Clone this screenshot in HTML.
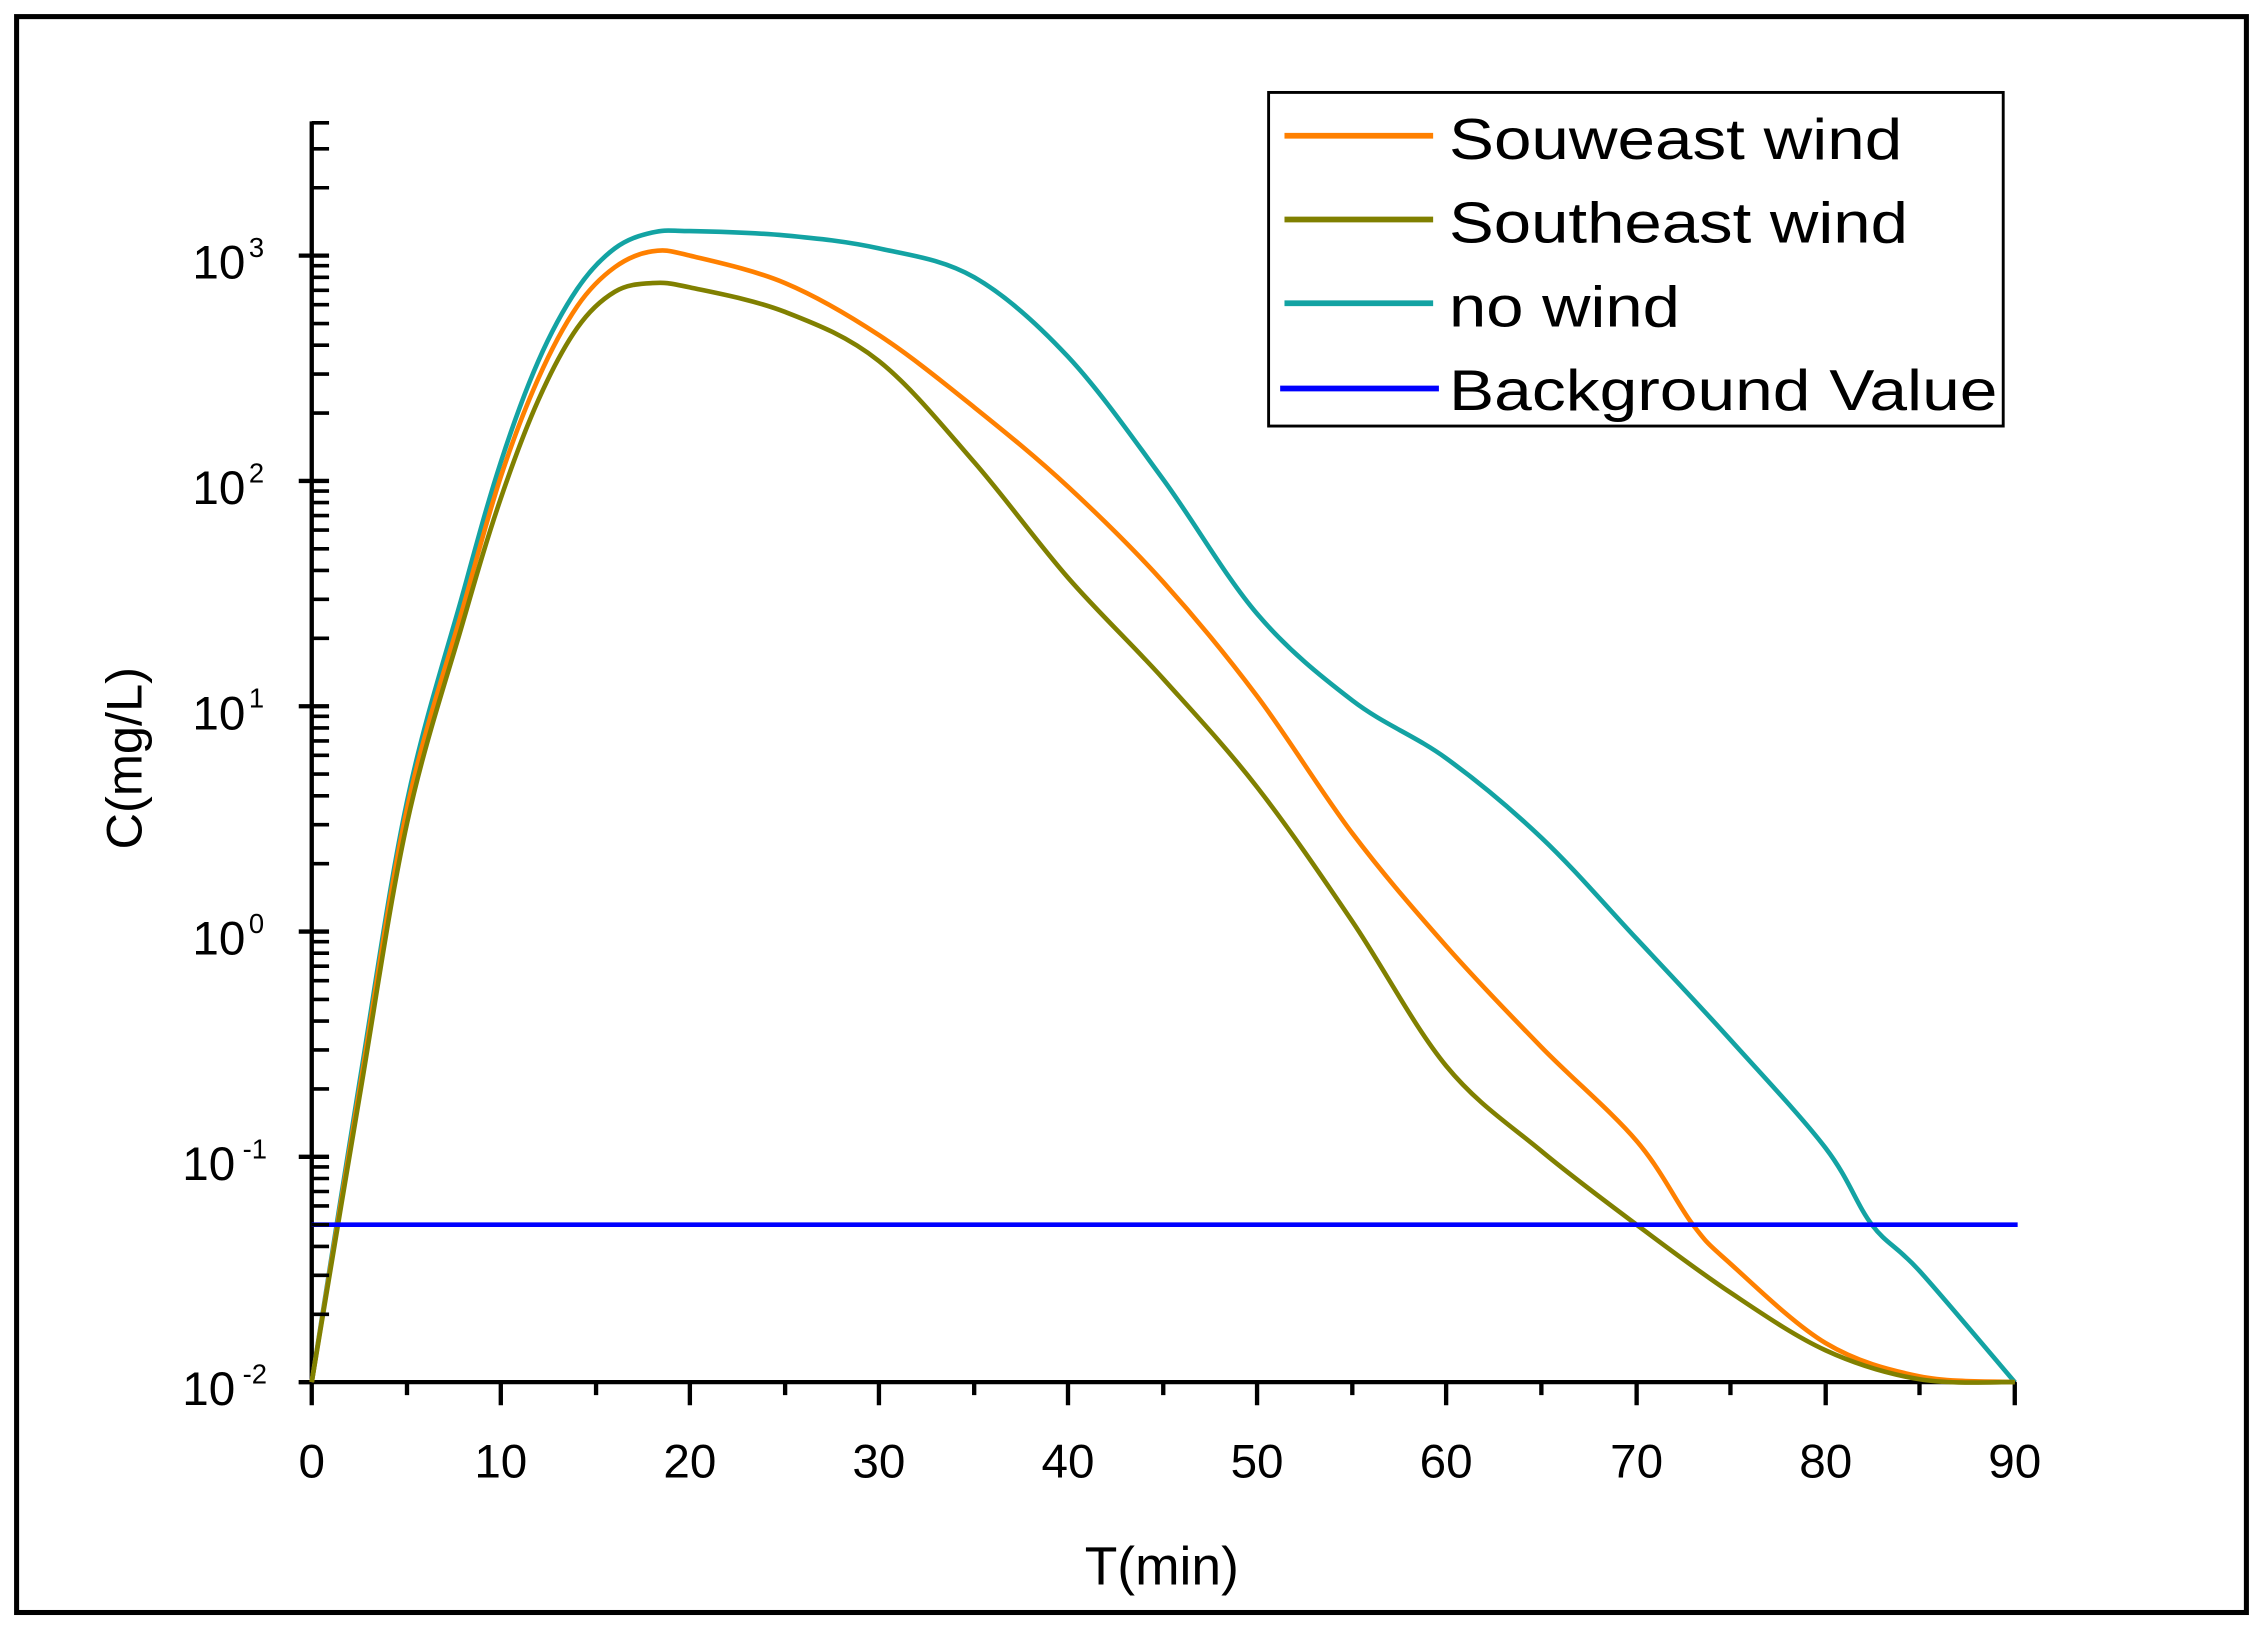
<!DOCTYPE html>
<html><head><meta charset="utf-8"><style>
html,body{margin:0;padding:0;background:#fff;}
svg{display:block;}
text{font-family:"Liberation Sans",Arial,sans-serif;fill:#000;}
</style></head><body>
<svg id="s" width="2263" height="1632" viewBox="0 0 1568 1130" preserveAspectRatio="none" xmlns="http://www.w3.org/2000/svg">
<rect x="0" y="0" width="1568" height="1130" fill="#fff"/>
<rect x="11.5" y="11.5" width="1545" height="1105" fill="none" stroke="#000" stroke-width="3.5"/>
<line x1="216" y1="84" x2="216" y2="958" stroke="#000" stroke-width="3"/>
<g stroke="#000" stroke-width="3">
<path d="M207 177H216M207 333H216M207 489H216M207 645H216M207 801H216M207 957H216"/>
<path d="M216 177H228M216 333H228M216 489H228M216 645H228M216 801H228"/>
</g>
<line x1="207" y1="957" x2="1397" y2="957" stroke="#000" stroke-width="3"/>
<g stroke="#000" stroke-width="3">
<path d="M216 957V973M347 957V973M478 957V973M609 957V973M740 957V973M871 957V973M1002 957V973M1134 957V973M1265 957V973M1396 957V973"/>
<path d="M282 957V966M413 957V966M544 957V966M675 957V966M806 957V966M937 957V966M1068 957V966M1199 957V966M1330 957V966"/>
</g>
<g font-size="33" text-anchor="middle">
<text x="216" y="1023">0</text><text x="347" y="1023">10</text><text x="478" y="1023">20</text><text x="609" y="1023">30</text><text x="740" y="1023">40</text><text x="871" y="1023">50</text><text x="1002" y="1023">60</text><text x="1134" y="1023">70</text><text x="1265" y="1023">80</text><text x="1396" y="1023">90</text>
</g>
<g font-size="33" text-anchor="end">
<text x="170" y="193">10</text><text x="183" y="178" font-size="19">3</text>
<text x="170" y="349">10</text><text x="183" y="334" font-size="19">2</text>
<text x="170" y="505">10</text><text x="183" y="490" font-size="19">1</text>
<text x="170" y="661">10</text><text x="183" y="646" font-size="19">0</text>
<text x="163" y="817">10</text><text x="185" y="802" font-size="19">-1</text>
<text x="163" y="973">10</text><text x="185" y="958" font-size="19">-2</text>
</g>
<text x="805" y="1097" font-size="37" text-anchor="middle">T(min)</text>
<text transform="translate(98,525) rotate(-90)" font-size="35" text-anchor="middle">C(mg/L)</text>
<g fill="none" stroke-width="3.2" stroke-linejoin="round" id="curves">
<path stroke="#13a3a3" data-p="216 957 249 750 282 555 321 410 347 320 373 250 400 200 426 172 452 161 478 160 544 163 609 172 675 192 740 247 806 332 871 425 937 485 1002 525 1068 580 1134 650 1199 720 1265 795 1297 848 1330 880 1396 957"/>
<path stroke="#ff8000" data-p="216 957 249 755 282 560 321 420 347 330 373 262 400 212 426 185 452 174 478 177 544 196 609 232 675 282 740 337 806 403 871 482 937 577 1002 655 1068 725 1134 790 1173 848 1199 875 1265 930 1330 953 1396 957"/>
<path stroke="#808000" data-p="216 957 249 760 282 570 321 430 347 345 373 277 400 227 426 202 452 196 478 199 544 216 609 250 675 320 740 400 806 470 871 545 937 638 1002 738 1068 797 1134 848 1199 895 1265 935 1330 955 1396 957"/>
</g>
<line x1="216" y1="848" x2="1398" y2="848" stroke="#0000ff" stroke-width="3.2"/>
<rect x="879" y="64" width="509" height="231" fill="#fff" stroke="#000" stroke-width="2"/>
<g stroke-width="4">
<line x1="890" y1="94" x2="993" y2="94" stroke="#ff8000"/>
<line x1="890" y1="152" x2="993" y2="152" stroke="#808000"/>
<line x1="890" y1="210" x2="993" y2="210" stroke="#13a3a3"/>
<line x1="887" y1="269" x2="997" y2="269" stroke="#0000ff"/>
</g>
<g font-size="40">
<text x="1004" y="110" textLength="314" lengthAdjust="spacingAndGlyphs">Souweast wind</text>
<text x="1004" y="168" textLength="318" lengthAdjust="spacingAndGlyphs">Southeast wind</text>
<text x="1004" y="226" textLength="160" lengthAdjust="spacingAndGlyphs">no wind</text>
<text x="1004" y="284" textLength="380" lengthAdjust="spacingAndGlyphs">Background Value</text>
</g>
<g stroke="#000" stroke-width="2.5">
<path d="
M216 910H228M216 883H228M216 863H228M216 848H228M216 835H228M216 825H228M216 816H228M216 808H228
M216 754H228M216 727H228M216 707H228M216 692H228M216 679H228M216 669H228M216 660H228M216 652H228
M216 598H228M216 571H228M216 551H228M216 536H228M216 523H228M216 513H228M216 504H228M216 496H228
M216 442H228M216 415H228M216 395H228M216 380H228M216 367H228M216 357H228M216 348H228M216 340H228
M216 286H228M216 259H228M216 239H228M216 224H228M216 211H228M216 201H228M216 192H228M216 184H228
M216 130H228M216 103H228M216 85H228"/>
</g>
</svg>
<script>
document.querySelectorAll('#curves path').forEach(function(p){
  var a=p.getAttribute('data-p').trim().split(/\s+/).map(Number),pts=[];
  for(var i=0;i<a.length;i+=2)pts.push([a[i],a[i+1]]);
  var d='M'+pts[0][0]+' '+pts[0][1];
  for(var i=0;i<pts.length-1;i++){
    var p0=pts[Math.max(0,i-1)],p1=pts[i],p2=pts[i+1],p3=pts[Math.min(pts.length-1,i+2)];
    var c1x=p1[0]+(p2[0]-p0[0])/6,c1y=p1[1]+(p2[1]-p0[1])/6;
    var c2x=p2[0]-(p3[0]-p1[0])/6,c2y=p2[1]-(p3[1]-p1[1])/6;
    d+=' C'+c1x.toFixed(1)+' '+c1y.toFixed(1)+' '+c2x.toFixed(1)+' '+c2y.toFixed(1)+' '+p2[0]+' '+p2[1];
  }
  p.setAttribute('d',d);
});
</script>
</body></html>
